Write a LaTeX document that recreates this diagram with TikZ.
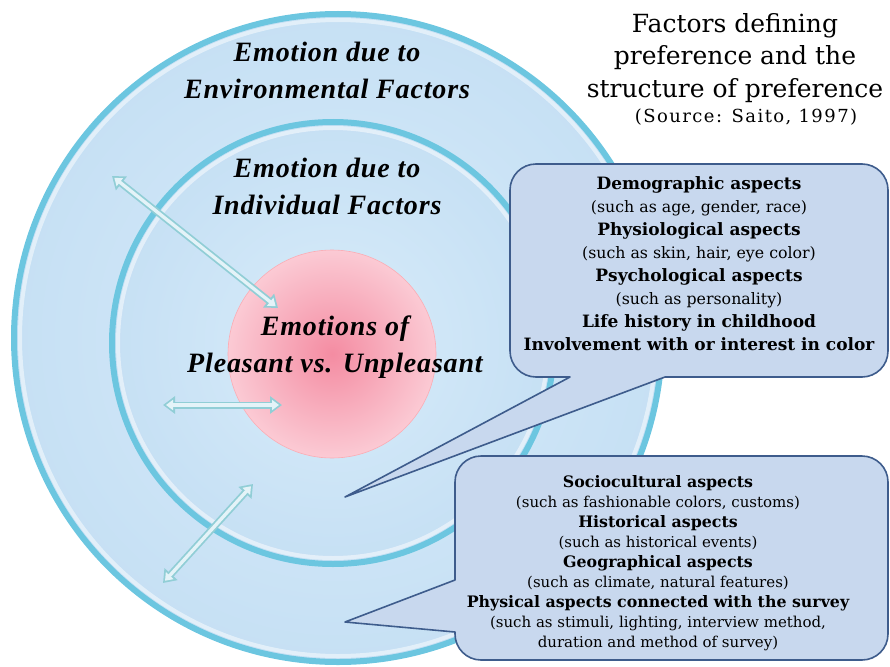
\documentclass[tikz,border=0pt]{standalone}
\usepackage{fontspec}
\setmainfont{DejaVu Serif}
\newfontfamily\ringfont[LetterSpace=3]{Liberation Serif}
\newfontfamily\sourcefont[LetterSpace=8]{DejaVu Serif}
\usetikzlibrary{arrows.meta}

\definecolor{ringcenter}{RGB}{216,236,250}
\definecolor{ringfill}{RGB}{198,224,244}
\definecolor{ringedge}{RGB}{108,198,224}
\definecolor{corecenter}{RGB}{244,140,162}
\definecolor{coreedge}{RGB}{251,202,212}
\definecolor{calloutfill}{RGB}{200,216,238}
\definecolor{calloutline}{RGB}{62,92,140}
\definecolor{arrowline}{RGB}{145,206,214}
\definecolor{arrowfill}{RGB}{228,243,248}

\newcommand{\aspecthead}[2]{{\fontsize{#1}{20}\selectfont\bfseries #2}}

\tikzset{
  ring/.style={shading=radial, inner color=ringcenter, outer color=ringfill,
    draw=ringedge, line width=6pt},
  ringglow/.style={draw=white, line width=4pt, opacity=0.5},
  core/.style={shading=radial, inner color=corecenter, outer color=coreedge,
    draw=coreedge!85!red, line width=0.6pt},
  ringlabel/.style={font=\ringfont\bfseries\itshape\fontsize{28}{37}\selectfont,
    align=center, inner sep=0pt},
  titlelabel/.style={font=\fontsize{25}{32.5}\selectfont, align=center, inner sep=0pt},
  sourcelabel/.style={font=\sourcefont\fontsize{18}{18}\selectfont, inner sep=0pt},
  aspectlist/.style={align=center, inner sep=0pt},
  calloutbox/.style={draw=calloutline, fill=calloutfill, line width=1.6pt, line join=round},
  twoway/.style={draw=arrowfill, line width=3.4pt, shorten <=3pt, shorten >=3pt,
    arrows={Triangle[length=7pt,width=10pt]-Triangle[length=7pt,width=10pt]},
    preaction={draw=arrowline, line width=7pt, shorten <=0pt, shorten >=0pt,
      arrows={Triangle[length=12pt,width=17pt]-Triangle[length=12pt,width=17pt]}}}
}

\begin{document}
\begin{tikzpicture}[x=1pt, y=-1pt]
  \useasboundingbox (0,0) rectangle (890,666);

  % Rings
  \path[ring] (338,338) circle[radius=324pt];
  \draw[ringglow] (338,338) circle[radius=318pt];
  \path[ring] (333,343) circle[radius=221pt];
  \draw[ringglow] (333,343) circle[radius=215pt];
  \path[core] (332,354) circle[radius=104pt];

  % Ring labels
  \node[ringlabel] (envtext) at (327,70) {Emotion due to\\Environmental Factors};
  \node[ringlabel] (indtext) at (327,186) {Emotion due to\\Individual Factors};
  \node[ringlabel] (coretext) at (335,347) {Emotions of\\Pleasant vs. Unpleasant};

  % Arrows between the layers
  \coordinate (envup) at (112,176);
  \coordinate (coreup) at (278,308);
  \coordinate (indleft) at (163,405);
  \coordinate (coreleft) at (282,405);
  \coordinate (envdown) at (163,583);
  \coordinate (inddown) at (253,484);
  \draw[twoway] (envup) -- (coreup);
  \draw[twoway] (indleft) -- (coreleft);
  \draw[twoway] (envdown) -- (inddown);

  % Callouts
  \draw[calloutbox] (665,377) [rounded corners=26pt] -- (888,377) -- (888,164)
    -- (510,164) -- (510,377) [sharp corners] -- (570,377) -- (345,497) -- cycle;
  \draw[calloutbox] (455,580) [rounded corners=26pt] -- (455,456) -- (888,456)
    -- (888,660) -- (455,660) [sharp corners] -- (455,632) -- (345,622) -- cycle;

  \node[aspectlist, font=\fontsize{15.8}{23}\selectfont] (indlist) at (699,264) {%
    \aspecthead{17}{Demographic aspects}\\
    (such as age, gender, race)\\
    \aspecthead{17}{Physiological aspects}\\
    (such as skin, hair, eye color)\\
    \aspecthead{17}{Psychological aspects}\\
    (such as personality)\\
    \aspecthead{17}{Life history in childhood}\\
    \aspecthead{17}{Involvement with or interest in color}};
  \node[aspectlist, font=\fontsize{15}{20}\selectfont] (envlist) at (658,563) {%
    \aspecthead{15.8}{Sociocultural aspects}\\
    (such as fashionable colors, customs)\\
    \aspecthead{15.8}{Historical aspects}\\
    (such as historical events)\\
    \aspecthead{15.8}{Geographical aspects}\\
    (such as climate, natural features)\\
    \aspecthead{15.8}{Physical aspects connected with the survey}\\
    (such as stimuli, lighting, interview method,\\
    duration and method of survey)};

  % Title
  \node[titlelabel, anchor=north] (title) at (735,13)
    {Factors defining\\preference and the\\structure of preference};
  \node[sourcelabel] (source) at (746,117) {(Source: Saito, 1997)};
\end{tikzpicture}
\end{document}
